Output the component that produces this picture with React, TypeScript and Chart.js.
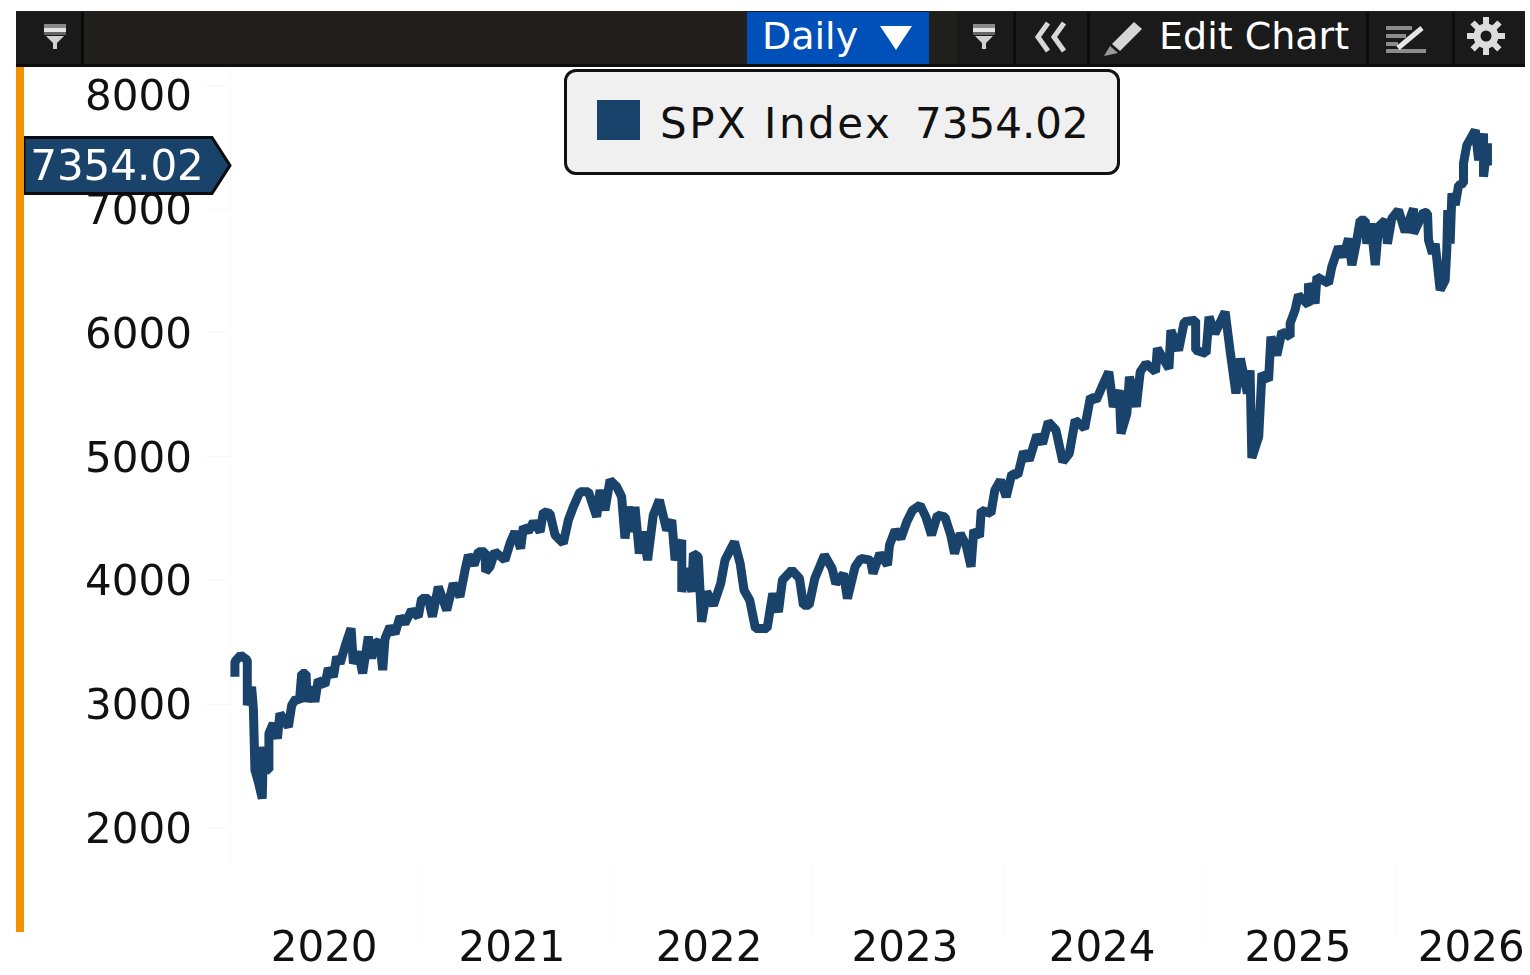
import React, { useEffect, useRef } from "react";
import { Chart, registerables } from "chart.js";

Chart.register(...registerables);

const seriesName = "SPX Index";
const lastPriceText = "7354.02";
const intervalLabel = "Daily";
const editLabel = "Edit Chart";
const yTickValues = [2000, 3000, 4000, 5000, 6000, 7000, 8000];
const yearBoundaries = [2021, 2021.995, 2023, 2023.98, 2024.99, 2025.975];
const yearLabels = [2020, 2021, 2022, 2023, 2024, 2025, 2026];
const yearLabelAnchors = [2020.522, 2021.478, 2022.481, 2023.478, 2024.481, 2025.478, 2026.359];

const spxDates = [
  2020.068, 2020.068, 2020.097, 2020.131, 2020.131, 2020.153, 2020.162, 2020.170, 2020.187, 2020.207,
  2020.213, 2020.238, 2020.241, 2020.263, 2020.284, 2020.297, 2020.340, 2020.357, 2020.379, 2020.396,
  2020.408, 2020.430, 2020.436, 2020.459, 2020.475, 2020.492, 2020.526, 2020.543, 2020.569, 2020.586,
  2020.603, 2020.633, 2020.659, 2020.671, 2020.696, 2020.718, 2020.747, 2020.764, 2020.781, 2020.806,
  2020.820, 2020.832, 2020.857, 2020.883, 2020.908, 2020.933, 2020.967, 2021.001, 2021.018, 2021.052,
  2021.073, 2021.103, 2021.146, 2021.179, 2021.213, 2021.239, 2021.256, 2021.285, 2021.307, 2021.341,
  2021.344, 2021.366, 2021.391, 2021.442, 2021.468, 2021.493, 2021.522, 2021.536, 2021.561, 2021.587,
  2021.621, 2021.638, 2021.671, 2021.697, 2021.739, 2021.765, 2021.790, 2021.824, 2021.867, 2021.909,
  2021.926, 2021.951, 2021.977, 2022.011, 2022.036, 2022.053, 2022.070, 2022.096, 2022.104, 2022.126,
  2022.146, 2022.168, 2022.197, 2022.228, 2022.265, 2022.291, 2022.308, 2022.342, 2022.342, 2022.367,
  2022.393, 2022.401, 2022.426, 2022.443, 2022.469, 2022.503, 2022.540, 2022.562, 2022.610, 2022.639,
  2022.659, 2022.688, 2022.717, 2022.776, 2022.805, 2022.834, 2022.854, 2022.902, 2022.941, 2022.961,
  2022.990, 2023.019, 2023.068, 2023.107, 2023.126, 2023.165, 2023.185, 2023.224, 2023.253, 2023.302,
  2023.315, 2023.350, 2023.389, 2023.399, 2023.428, 2023.457, 2023.487, 2023.516, 2023.555, 2023.584,
  2023.613, 2023.643, 2023.681, 2023.711, 2023.730, 2023.759, 2023.789, 2023.814, 2023.828, 2023.857,
  2023.866, 2023.915, 2023.935, 2023.964, 2023.993, 2024.022, 2024.052, 2024.081, 2024.110, 2024.149,
  2024.178, 2024.207, 2024.246, 2024.281, 2024.314, 2024.344, 2024.392, 2024.422, 2024.451, 2024.480,
  2024.515, 2024.538, 2024.568, 2024.577, 2024.607, 2024.620, 2024.655, 2024.675, 2024.704, 2024.753,
  2024.762, 2024.821, 2024.831, 2024.870, 2024.899, 2024.957, 2024.957, 2025.010, 2025.025, 2025.055,
  2025.107, 2025.132, 2025.162, 2025.185, 2025.220, 2025.234, 2025.243, 2025.278, 2025.294, 2025.328,
  2025.340, 2025.370, 2025.396, 2025.438, 2025.438, 2025.463, 2025.480, 2025.531, 2025.531, 2025.565,
  2025.574, 2025.633, 2025.650, 2025.684, 2025.709, 2025.735, 2025.752, 2025.777, 2025.794, 2025.820,
  2025.828, 2025.849, 2025.871, 2025.888, 2025.922, 2025.933, 2025.955, 2025.989, 2026.023, 2026.066,
  2026.066, 2026.117, 2026.137, 2026.142, 2026.162, 2026.176, 2026.201, 2026.227, 2026.235, 2026.240,
  2026.252, 2026.261, 2026.278, 2026.295, 2026.320, 2026.320, 2026.337, 2026.380, 2026.397, 2026.422,
  2026.422, 2026.442, 2026.442,
];

const spxValues = [
  3222, 3343, 3397, 3357, 2991, 3141, 2965, 2468, 2373, 2238,
  2656, 2468, 2763, 2845, 2723, 2925, 2818, 2992, 3047, 3020,
  3249, 3249, 3020, 3141, 3020, 3196, 3154, 3290, 3222, 3383,
  3330, 3491, 3613, 3330, 3424, 3249, 3545, 3370, 3504, 3491,
  3276, 3531, 3626, 3572, 3707, 3653, 3760, 3707, 3854, 3854,
  3707, 3949, 3760, 3976, 3869, 4084, 4205, 4125, 4232, 4232,
  4071, 4111, 4232, 4165, 4300, 4394, 4259, 4434, 4394, 4474,
  4394, 4555, 4542, 4367, 4300, 4488, 4595, 4717, 4717, 4515,
  4730, 4568, 4811, 4757, 4677, 4340, 4595, 4394, 4595, 4218,
  4394, 4165, 4528, 4650, 4407, 4488, 4165, 4327, 3908, 4098,
  3908, 4218, 4192, 3666, 3908, 3800, 3975, 4164, 4312, 4138,
  3921, 3840, 3612, 3612, 3894, 3746, 4003, 4084, 4017, 3800,
  3800, 4017, 4205, 4097, 3975, 4055, 3854, 4111, 4178, 4164,
  4057, 4218, 4124, 4285, 4407, 4340, 4474, 4568, 4609, 4514,
  4367, 4528, 4514, 4367, 4218, 4380, 4285, 4111, 4407, 4353,
  4568, 4541, 4730, 4811, 4676, 4864, 4851, 5040, 4973, 5174,
  5107, 5282, 5215, 4959, 5026, 5296, 5229, 5484, 5457, 5564,
  5686, 5403, 5538, 5188, 5349, 5646, 5403, 5686, 5753, 5686,
  5875, 5713, 6022, 5860, 6090, 6103, 5860, 5835, 6131, 5996,
  6171, 5860, 5512, 5793, 5512, 5699, 4990, 5163, 5672, 5618,
  5969, 5820, 6010, 5969, 6078, 6186, 6306, 6226, 6400, 6239,
  6454, 6400, 6535, 6696, 6615, 6763, 6548, 6749, 6911, 6911,
  6722, 6884, 6548, 6858, 6911, 6722, 6925, 6993, 6817, 7006,
  6804, 6979, 6966, 6750, 6643, 6722, 6347, 6427, 6670, 6993,
  6722, 7127, 7033, 7194, 7209, 7370, 7518, 7639, 7396, 7612,
  7262, 7532, 7354.02,
];

const NAVY = "#1a436c";
const FONT = "'DejaVu Sans'";

const priceTag = {
  id: "priceTag",
  afterDraw(chart: any) {
    const ctx = chart.ctx;
    const y = chart.scales.y.getPixelForValue(spxValues[spxValues.length - 1]);
    ctx.save();
    ctx.beginPath();
    ctx.moveTo(24, y - 28);
    ctx.lineTo(212, y - 28);
    ctx.lineTo(230, y);
    ctx.lineTo(212, y + 28);
    ctx.lineTo(24, y + 28);
    ctx.closePath();
    ctx.fillStyle = NAVY;
    ctx.fill();
    ctx.strokeStyle = "#0c0c0c";
    ctx.lineWidth = 3;
    ctx.stroke();
    ctx.fillStyle = "#ffffff";
    ctx.font = `42px ${FONT}`;
    ctx.textAlign = "center";
    ctx.textBaseline = "middle";
    ctx.fillText(lastPriceText, 117, y + 4);
    ctx.restore();
  },
};

const Funnel = ({ x }: { x: number }) => (
  <svg style={{ position: "absolute", left: x, top: 24, width: 22, height: 26 }} viewBox="0 0 22 26">
    <rect x="0" y="0" width="22" height="4" fill="#8a8a8a" />
    <rect x="0" y="4" width="22" height="4" fill="#e4e4e4" />
    <rect x="0" y="8" width="22" height="3" fill="#666666" />
    <path d="M2 12 H20 L13 19 V25 H9 V19 Z" fill="#d0d0d0" />
  </svg>
);

export default function App() {
  const ref = useRef<HTMLCanvasElement | null>(null);

  useEffect(() => {
    if (!ref.current) return;
    const xTicks = [...yearBoundaries, ...yearLabelAnchors].sort((a, b) => a - b);
    const chart = new Chart(ref.current, {
      type: "line",
      data: {
        datasets: [
          {
            label: seriesName,
            data: spxDates.map((d, i) => ({ x: d, y: spxValues[i] })),
            borderColor: NAVY,
            borderWidth: 9,
            pointRadius: 0,
            tension: 0,
            borderJoinStyle: "bevel",
            borderCapStyle: "butt",
          },
        ],
      },
      plugins: [priceTag],
      options: {
        animation: false,
        responsive: false,
        parsing: false,
        normalized: false,
        layout: { padding: { top: 68, left: 0, right: 5, bottom: 0 } },
        plugins: { legend: { display: false }, tooltip: { enabled: false } },
        scales: {
          x: {
            type: "linear",
            min: 2020.043,
            max: 2026.633,
            afterFit(s: any) {
              s.height = 110;
            },
            afterBuildTicks(s: any) {
              s.ticks = xTicks.map((v) => ({ value: v }));
            },
            border: { color: "#fdfdfd" },
            grid: {
              drawOnChartArea: false,
              tickLength: 75,
              tickColor: (c: any) => (yearBoundaries.includes(c.tick?.value) ? "#fafafa" : "rgba(0,0,0,0)"),
            },
            ticks: {
              autoSkip: false,
              maxRotation: 0,
              padding: -15,
              color: "#111111",
              font: { family: FONT, size: 42 },
              callback: (v: any) => {
                const i = yearLabelAnchors.indexOf(v);
                return i >= 0 ? String(yearLabels[i]) : "";
              },
            },
          },
          y: {
            type: "linear",
            min: 1701,
            max: 8141,
            afterFit(s: any) {
              s.width = 230;
            },
            afterBuildTicks(s: any) {
              s.ticks = yTickValues.map((v) => ({ value: v }));
            },
            border: { color: "#fafafa" },
            grid: { drawOnChartArea: false, tickLength: 24, tickColor: "#f9f6f3" },
            ticks: {
              autoSkip: false,
              padding: 14,
              color: "#111111",
              font: (c: any) => ({
                family: FONT,
                size: 42,
                lineHeight: c.tick?.value === 8000 ? "28px" : "8px",
              }),
              callback: (v: any) => ["", String(v)],
            },
          },
        },
      },
    } as any);
    return () => chart.destroy();
  }, []);

  const txt: React.CSSProperties = {
    position: "absolute",
    fontFamily: FONT,
    color: "#ffffff",
    whiteSpace: "pre",
    lineHeight: 1,
  };

  return (
    <div style={{ position: "absolute", left: 0, top: 0, width: 1530, height: 975, overflow: "hidden", background: "#fff", filter: "blur(0.6px)" }}>
      <canvas ref={ref} width={1530} height={975} style={{ position: "absolute", left: 0, top: 0, display: "block" }} />

      <div style={{ position: "absolute", left: 16, top: 67, width: 8, height: 865, background: "#f39200" }} />

      <div style={{ position: "absolute", left: 16, top: 11, width: 1509, height: 56, background: "#211f1b", borderBottom: "3px solid #0d0d0d", boxSizing: "border-box" }} />
      <div style={{ position: "absolute", left: 16, top: 12, width: 68, height: 52, background: "#1a1a1a", borderRight: "3px solid #0a0a0a", boxSizing: "border-box" }} />
      <div style={{ position: "absolute", left: 957, top: 12, width: 568, height: 52, background: "#1a1a1a" }} />
      {[1013, 1087, 1366, 1452].map((x) => (
        <div key={x} style={{ position: "absolute", left: x, top: 12, width: 3, height: 52, background: "#0c0c0c" }} />
      ))}
      <div style={{ position: "absolute", left: 747, top: 12, width: 182, height: 52, background: "#0050b9" }} />

      <Funnel x={44} />
      <Funnel x={973} />

      <div style={{ ...txt, left: 762, top: 17, fontSize: 38 }}>{intervalLabel}</div>
      <svg style={{ position: "absolute", left: 880, top: 26, width: 32, height: 24 }} viewBox="0 0 32 24">
        <path d="M0 0 H32 L16 24 Z" fill="#ffffff" />
      </svg>

      <svg style={{ position: "absolute", left: 1034, top: 21, width: 34, height: 32 }} viewBox="0 0 34 32">
        <path d="M14 2 L4 16 L14 30 M30 2 L20 16 L30 30" fill="none" stroke="#d8d8d8" strokeWidth="5" />
      </svg>
      <svg style={{ position: "absolute", left: 1104, top: 20, width: 40, height: 36 }} viewBox="0 0 40 36">
        <path d="M8 24 L30 2 L38 9 L16 31 Z" fill="#d6d6d6" />
        <path d="M0 36 L6 26 L14 33 Z" fill="#9a9a9a" />
      </svg>
      <div style={{ ...txt, left: 1159, top: 17, fontSize: 38 }}>{editLabel}</div>
      <svg style={{ position: "absolute", left: 1384, top: 24, width: 44, height: 30 }} viewBox="0 0 44 30">
        <path d="M2 4 H28 M2 12 H22 M2 20 H14 M2 27 H42" stroke="#8c8c8c" strokeWidth="4" fill="none" />
        <path d="M14 24 L38 4" stroke="#e6e6e6" strokeWidth="5" fill="none" />
      </svg>
      <svg style={{ position: "absolute", left: 1466, top: 16, width: 40, height: 40 }} viewBox="0 0 40 40">
        <circle cx="20" cy="20" r="9" fill="none" stroke="#dcdcdc" strokeWidth="7" />
        <path d="M20 1 V39 M1 20 H39 M6.5 6.5 L33.5 33.5 M33.5 6.5 L6.5 33.5" stroke="#dcdcdc" strokeWidth="6" strokeDasharray="8 22" />
      </svg>

      <div style={{ position: "absolute", left: 564, top: 69, width: 556, height: 106, boxSizing: "border-box", background: "#f0f0f0", border: "3px solid #111111", borderRadius: 12 }} />
      <div style={{ position: "absolute", left: 597, top: 100, width: 43, height: 40, background: NAVY }} />
      <div style={{ ...txt, left: 660, top: 103, fontSize: 42, color: "#111111", letterSpacing: 2.5 }}>{seriesName}</div>
      <div style={{ ...txt, left: 915, top: 103, fontSize: 42, color: "#111111" }}>{lastPriceText}</div>
    </div>
  );
}
